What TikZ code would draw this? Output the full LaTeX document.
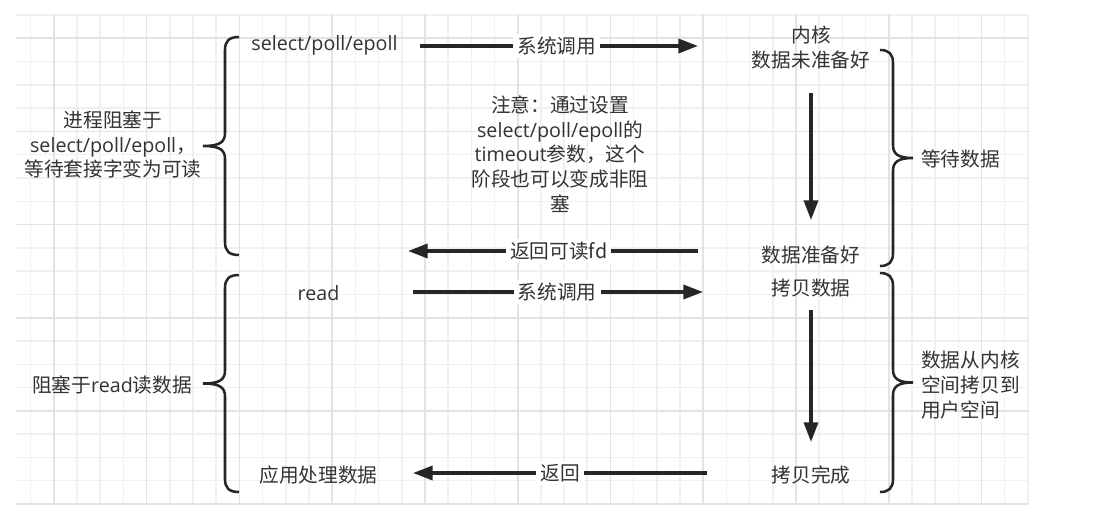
\documentclass[tikz,border=0pt]{standalone}
\usepackage{fontspec}
\setmainfont{Open Sans}
\newfontfamily\cjk{Noto Sans CJK SC}
\usetikzlibrary{arrows.meta}
\begin{document}
\begin{tikzpicture}[x=0.025cm,y=-0.025cm,
  txt/.style={font=\fontsize{14}{17.5}\selectfont, text=black!80, inner sep=0pt, align=center},
  ctxt/.style={txt, font={\cjk\fontsize{14}{17.5}\selectfont}},
  arr/.style={line width=2.4pt, draw=black!85, -{Triangle[length=14pt,width=10pt]}},
  brace/.style={line width=1.8pt, draw=black!85},
  lbl/.style={ctxt, fill=white, inner xsep=3pt, inner ysep=2pt},
  minor/.style={draw=black!6, line width=1.1pt},
  major/.style={draw=black!11, line width=1.2pt}]
\useasboundingbox (0,0) rectangle (1114,516);
\fill[white] (0,0) rectangle (1114,516);
% grid
\begin{scope}
  \clip (16,14) rectangle (1029,505);
  \foreach \k in {0,...,43} \draw[minor] ({30.7+23.19*\k},14) -- ({30.7+23.19*\k},505);
  \foreach \j in {0,...,21} \draw[minor] (16,{15+23.285*\j}) -- (1029,{15+23.285*\j});
  \foreach \k in {1,5,...,41} \draw[major] ({30.7+23.19*\k},14) -- ({30.7+23.19*\k},505);
  \foreach \j in {1,5,...,21} \draw[major] (16,{15+23.285*\j}) -- (1029,{15+23.285*\j});
\end{scope}

% text nodes
\node[txt] (sel) at (324.5,45) {select/poll/epoll};
\node[ctxt] (notready) at (811,47.5) {内核\\数据未准备好};
\node[txt] (note) at (560,154) {{\cjk 注意：通过设置}\\select/poll/epoll{\cjk 的}\\timeout{\cjk 参数，这个}\\{\cjk 阶段也可以变成非阻}\\{\cjk 塞}};
\node[ctxt] (ready) at (811,255) {数据准备好};
\node[ctxt] (copy) at (811,288) {拷贝数据};
\node[ctxt] (copied) at (811,475) {拷贝完成};
\node[txt] (read) at (318.5,293) {read};
\node[ctxt] (app) at (318.5,475) {应用处理数据};
\node[txt] (blk1) at (113,144.5) {{\cjk 进程阻塞于}\\select/poll/epoll{\cjk ，}\\{\cjk 等待套接字变为可读}};
\node[txt] (blk2) at (112,385) {{\cjk 阻塞于}read{\cjk 读数据}};
\node[ctxt, anchor=west] (wait) at (921,159) {等待数据};
\node[ctxt, anchor=west, align=left] (cpdesc) at (921,385) {数据从内核\\空间拷贝到\\用户空间};

% arrow end points
\coordinate (a1s) at (420,46);  \coordinate (a1e) at (698,46);
\coordinate (a2s) at (698,251); \coordinate (a2e) at (408,251);
\coordinate (a3s) at (413,292); \coordinate (a3e) at (703,292);
\coordinate (a4s) at (707,473); \coordinate (a4e) at (413,473);
\coordinate (v1s) at (811,93);  \coordinate (v1e) at (811,220);
\coordinate (v2s) at (811,310); \coordinate (v2e) at (811,442);

\draw[arr] (a1s) -- node[lbl, xshift=-1.5] {系统调用} (a1e);
\draw[arr] (a2s) -- node[lbl, xshift=4] {返回可读fd} (a2e);
\draw[arr] (a3s) -- node[lbl, xshift=-0.5] {系统调用} (a3e);
\draw[arr] (a4s) -- node[lbl] {返回} (a4e);
\draw[arr] (v1s) -- (v1e);
\draw[arr] (v2s) -- (v2e);

% braces
\draw[brace] (239,37) .. controls (229,37) and (225,41) .. (225,50) -- (225,133)
  .. controls (225,142) and (220,146) .. (203,146)
  .. controls (220,146) and (225,150) .. (225,159) -- (225,242)
  .. controls (225,251) and (229,255) .. (239,255);
\draw[brace] (239,275) .. controls (229,275) and (225,279) .. (225,288) -- (225,370.5)
  .. controls (225,379.5) and (220,383.5) .. (203,383.5)
  .. controls (220,383.5) and (225,387.5) .. (225,396.5) -- (225,479)
  .. controls (225,488) and (229,492) .. (239,492);
\draw[brace] (880,50) .. controls (889,50) and (893,54) .. (893,63) -- (893,145)
  .. controls (893,154) and (898,158) .. (913,158)
  .. controls (898,158) and (893,162) .. (893,171) -- (893,253)
  .. controls (893,262) and (889,266) .. (880,266);
\draw[brace] (880,273) .. controls (889,273) and (893,277) .. (893,286) -- (893,369.5)
  .. controls (893,378.5) and (898,382.5) .. (913,382.5)
  .. controls (898,382.5) and (893,386.5) .. (893,395.5) -- (893,479)
  .. controls (893,488) and (889,492) .. (880,492);
\end{tikzpicture}
\end{document}
